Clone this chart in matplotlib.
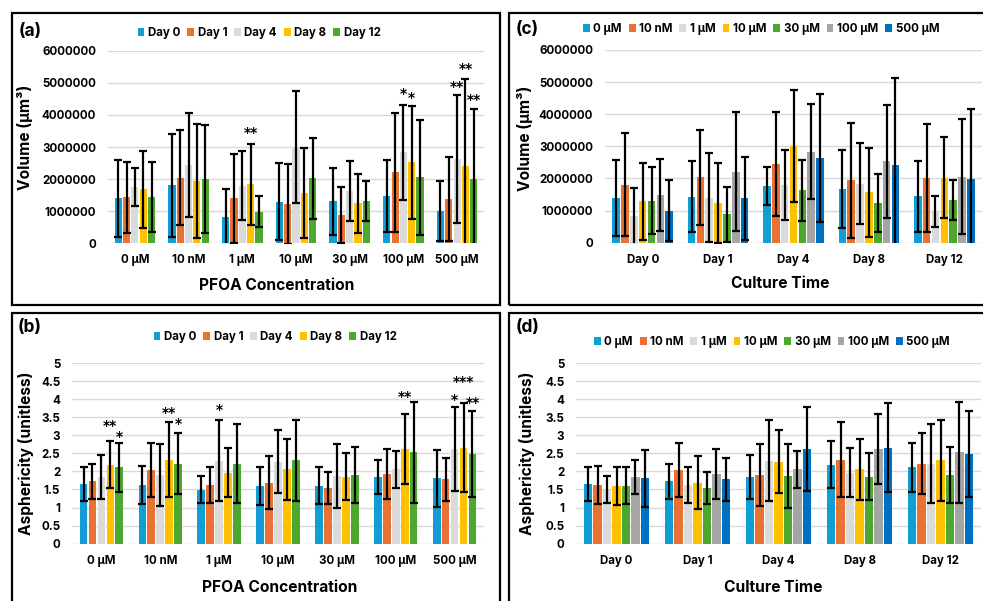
import matplotlib
matplotlib.use("Agg")
import matplotlib.pyplot as plt
import numpy as np
from matplotlib.patches import Rectangle, Patch

plt.rcParams['font.family'] = ['Inter', 'Open Sans', 'DejaVu Sans']
plt.rcParams['font.weight'] = 'bold'

# ---------------- data ----------------
concentrations = ["0 µM", "10 nM", "1 µM", "10 µM", "30 µM", "100 µM", "500 µM"]
days = ["Day 0", "Day 1", "Day 4", "Day 8", "Day 12"]

# Volume (µm^3), mean per concentration across days (Day 0, 1, 4, 8, 12)
vol_0uM   = [1.40e6, 1.43e6, 1.76e6, 1.68e6, 1.44e6]
vol_10nM  = [1.81e6, 2.04e6, 2.44e6, 1.94e6, 2.01e6]
vol_1uM   = [0.82e6, 1.40e6, 1.80e6, 1.84e6, 0.98e6]
vol_10uM  = [1.29e6, 1.23e6, 3.00e6, 1.57e6, 2.03e6]
vol_30uM  = [1.31e6, 0.88e6, 1.63e6, 1.24e6, 1.32e6]
vol_100uM = [1.48e6, 2.21e6, 2.83e6, 2.53e6, 2.06e6]
vol_500uM = [1.00e6, 1.38e6, 2.63e6, 2.41e6, 1.99e6]

vol_sd_0uM   = [1.19e6, 1.10e6, 0.60e6, 1.21e6, 1.10e6]
vol_sd_10nM  = [1.61e6, 1.48e6, 1.62e6, 1.78e6, 1.69e6]
vol_sd_1uM   = [0.88e6, 1.38e6, 1.08e6, 1.26e6, 0.48e6]
vol_sd_10uM  = [1.20e6, 1.25e6, 1.74e6, 1.39e6, 1.26e6]
vol_sd_30uM  = [1.05e6, 0.86e6, 0.94e6, 0.91e6, 0.62e6]
vol_sd_100uM = [1.12e6, 1.85e6, 1.48e6, 1.76e6, 1.79e6]
vol_sd_500uM = [0.94e6, 1.30e6, 1.99e6, 2.72e6, 2.18e6]

# Asphericity (unitless)
asp_0uM   = [1.66, 1.73, 1.85, 2.18, 2.11]
asp_10nM  = [1.63, 2.03, 1.90, 2.32, 2.21]
asp_1uM   = [1.49, 1.62, 2.30, 1.97, 2.21]
asp_10uM  = [1.60, 1.69, 2.27, 2.06, 2.31]
asp_30uM  = [1.61, 1.54, 1.88, 1.85, 1.91]
asp_100uM = [1.85, 1.93, 2.06, 2.61, 2.53]
asp_500uM = [1.81, 1.78, 2.61, 2.66, 2.49]

asp_sd_0uM   = [0.47, 0.48, 0.60, 0.65, 0.69]
asp_sd_10nM  = [0.53, 0.75, 0.85, 1.04, 0.84]
asp_sd_1uM   = [0.37, 0.50, 1.12, 0.68, 1.09]
asp_sd_10uM  = [0.52, 0.73, 0.87, 0.84, 1.12]
asp_sd_30uM  = [0.50, 0.44, 0.89, 0.65, 0.77]
asp_sd_100uM = [0.47, 0.68, 0.51, 0.97, 1.39]
asp_sd_500uM = [0.79, 0.60, 1.16, 1.23, 1.19]

# significance annotations: (concentration index, day index, label, y value)
vol_stars = [(2, 3, "**", 3.43e6), (5, 2, "*", 4.64e6), (5, 3, "*", 4.52e6),
             (6, 2, "**", 4.86e6), (6, 3, "**", 5.42e6), (6, 4, "**", 4.47e6)]
asp_stars = [(0, 3, "**", 3.25), (0, 4, "*", 2.95), (1, 3, "**", 3.61),
             (1, 4, "*", 3.30), (2, 2, "*", 3.69), (5, 3, "**", 4.05),
             (6, 2, "*", 3.98), (6, 3, "***", 4.47), (6, 4, "**", 3.88)]

vol_ticks = [0, 1000000, 2000000, 3000000, 4000000, 5000000, 6000000]
asp_ticks = [0, 0.5, 1, 1.5, 2, 2.5, 3, 3.5, 4, 4.5, 5]

vol = np.array([vol_0uM, vol_10nM, vol_1uM, vol_10uM, vol_30uM, vol_100uM, vol_500uM])
vol_sd = np.array([vol_sd_0uM, vol_sd_10nM, vol_sd_1uM, vol_sd_10uM, vol_sd_30uM, vol_sd_100uM, vol_sd_500uM])
asp = np.array([asp_0uM, asp_10nM, asp_1uM, asp_10uM, asp_30uM, asp_100uM, asp_500uM])
asp_sd = np.array([asp_sd_0uM, asp_sd_10nM, asp_sd_1uM, asp_sd_10uM, asp_sd_30uM, asp_sd_100uM, asp_sd_500uM])

day_colors = ["#0F9ED5", "#E97132", "#DADADA", "#FFC000", "#4EA72E"]
conc_colors = ["#0F9ED5", "#E97132", "#DADADA", "#FFC000", "#4EA72E", "#A5A5A5", "#0070C0"]

# ---------------- figure ----------------
W, H = 983, 601
fig = plt.figure(figsize=(W / 100, H / 100), dpi=100)

def fx(x):
    return x / W

def fy(y):
    return 1 - y / H

def add_ax(x0, x1, ytop, ybot):
    return fig.add_axes([fx(x0), fy(ybot), fx(x1) - fx(x0), fy(ytop) - fy(ybot)])

TICK_FS = 8.3

def draw(ax, groups, series, means, sds, colors, step_frac, ticks, ticklabels, ylim, stars):
    n = len(series)
    x = np.arange(len(groups))
    step = step_frac / n
    width = step * 0.86
    for j in range(n):
        xs = x + (j - (n - 1) / 2) * step
        ax.bar(xs, means[:, j], width=width, color=colors[j], zorder=2, linewidth=0)
        ax.errorbar(xs, means[:, j], yerr=sds[:, j], fmt='none', ecolor='black',
                    elinewidth=1.6, capsize=2.6, capthick=1.6, zorder=3)
    for gi, sj, lab, yv in stars:
        xs = gi + (sj - (n - 1) / 2) * step
        ax.text(xs, yv, lab, ha='center', va='center', fontsize=10,
                family=['DejaVu Sans'], fontweight='bold', color='black', zorder=4)
    ax.set_xlim(-0.5, len(groups) - 0.5)
    ax.set_ylim(*ylim)
    ax.set_yticks(ticks)
    ax.set_yticklabels(ticklabels, fontsize=TICK_FS, fontweight='bold')
    ax.set_xticks(x)
    ax.set_xticklabels(groups, fontsize=TICK_FS, fontweight='bold')
    ax.tick_params(axis='both', length=0)
    ax.tick_params(axis='y', pad=8.5)
    ax.tick_params(axis='x', pad=8)
    ax.yaxis.grid(True, color='#D9D9D9', linewidth=1.0, zorder=0)
    ax.set_axisbelow(True)
    for s in ax.spines.values():
        s.set_visible(False)
    ax.set_facecolor('none')

def fmt_asp(v):
    return ("%g" % v)

vol_labels = [str(int(t)) for t in vol_ticks]
asp_labels = [fmt_asp(t) for t in asp_ticks]

# (a)
axa = add_ax(108, 484, 50.7, 243.3)
draw(axa, concentrations, days, vol, vol_sd, day_colors, 0.775, vol_ticks, vol_labels,
     (0, 6000000), vol_stars)
# (b)
axb = add_ax(72, 484, 363, 543.7)
draw(axb, concentrations, days, asp, asp_sd, day_colors, 0.76, asp_ticks, asp_labels,
     (0, 5), asp_stars)
# (c)
axc = add_ax(605, 982, 50, 242.7)
draw(axc, days, concentrations, vol.T, vol_sd.T, conc_colors, 0.82, vol_ticks, vol_labels,
     (0, 6000000), [])
# (d)
axd = add_ax(576, 981, 363, 543.7)
draw(axd, days, concentrations, asp.T, asp_sd.T, conc_colors, 0.82, asp_ticks, asp_labels,
     (0, 5), [])

# panel frames
for (x0, y0, x1, y1) in [(12, 13, 500, 305), (12, 313, 500, 620),
                         (509, 13, 1020, 305), (509, 313, 1020, 620)]:
    fig.patches.append(Rectangle((fx(x0), fy(y1)), fx(x1) - fx(x0), fy(y0) - fy(y1),
                                 transform=fig.transFigure, fill=False,
                                 edgecolor='black', linewidth=1.6, zorder=10))

# panel letters
LBL_FS = 12.5
for txt, x, y in [("(a)", 19, 31), ("(b)", 18, 327), ("(c)", 516, 30), ("(d)", 516, 327)]:
    fig.text(fx(x), fy(y), txt, fontsize=LBL_FS, fontweight='bold', ha='left', va='center')

# axis titles
AX_FS = 11.2
fig.text(fx(25), fy(137), "Volume (µm³)", rotation=90, fontsize=AX_FS, fontweight='bold',
         ha='center', va='center')
fig.text(fx(26), fy(453), "Asphericity (unitless)", rotation=90, fontsize=AX_FS,
         fontweight='bold', ha='center', va='center')
fig.text(fx(525), fy(138), "Volume (µm³)", rotation=90, fontsize=AX_FS, fontweight='bold',
         ha='center', va='center')
fig.text(fx(527), fy(453), "Asphericity (unitless)", rotation=90, fontsize=AX_FS,
         fontweight='bold', ha='center', va='center')
fig.text(fx(277), fy(285), "PFOA Concentration", fontsize=AX_FS, fontweight='bold',
         ha='center', va='center')
fig.text(fx(280), fy(587), "PFOA Concentration", fontsize=AX_FS, fontweight='bold',
         ha='center', va='center')
fig.text(fx(780), fy(284), "Culture Time", fontsize=AX_FS, fontweight='bold',
         ha='center', va='center')
fig.text(fx(773), fy(587), "Culture Time", fontsize=AX_FS, fontweight='bold',
         ha='center', va='center')

# legends
def legend(names, colors, cx, cy):
    handles = [Patch(facecolor=c, edgecolor='none') for c in colors]
    fig.legend(handles, names, loc='center', bbox_to_anchor=(fx(cx), fy(cy)),
               ncol=len(names), frameon=False,
               handlelength=0.6, handleheight=0.6, handletextpad=0.3,
               columnspacing=0.6, borderaxespad=0, borderpad=0,
               prop={'weight': 'bold', 'size': TICK_FS})

legend(days, day_colors, 259, 33)
legend(days, day_colors, 275, 337)
legend(concentrations, conc_colors, 761, 29)
legend(concentrations, conc_colors, 772, 342)

fig.savefig("out.png", dpi=100, facecolor='white')
